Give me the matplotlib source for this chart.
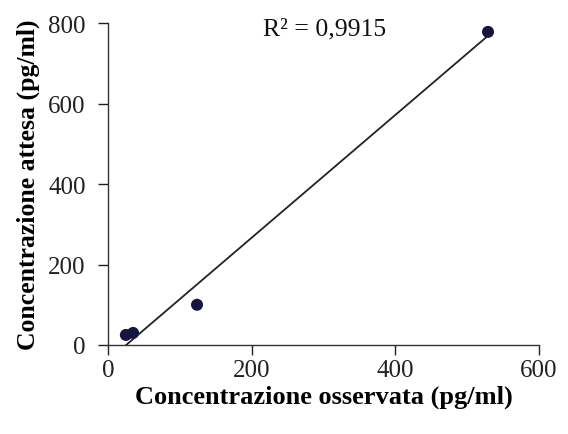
import matplotlib
matplotlib.use("Agg")
import matplotlib.pyplot as plt
import numpy as np

observed = [25, 35, 124, 529]
expected = [25, 30, 100, 778]
x_ticks = [0, 200, 400, 600]
y_ticks = [0, 200, 400, 600, 800]
r2_label = "R² = 0,9915"

plt.rcParams['font.family'] = ['Liberation Serif', 'DejaVu Serif']

fig = plt.figure(figsize=(5.68, 4.35), dpi=100)
ax = fig.add_axes([0.190, 0.2046, 0.759, 0.7402])

xo = np.array(observed, dtype=float)
ye = np.array(expected, dtype=float)
slope, intercept = np.polyfit(xo, ye, 1)
xl = np.array([xo.min(), xo.max()])
ax.plot(xl, slope * xl + intercept, color='#222222', lw=1.3, zorder=2)
ax.scatter(xo, ye, s=75, color='#15153f', zorder=3, edgecolors='none')

ax.set_xlim(0, 600)
ax.set_ylim(0, 800)
ax.set_xticks(x_ticks)
ax.set_yticks(y_ticks)
ax.tick_params(direction='out', length=7, width=1, labelsize=18, colors='#222222')
ax.tick_params(axis='y', pad=9)
ax.tick_params(axis='x', pad=3)
for s in ['top', 'right']:
    ax.spines[s].set_visible(False)
for s in ['left', 'bottom']:
    ax.spines[s].set_color('#333333')
    ax.spines[s].set_linewidth(1)

ax.set_xlabel("Concentrazione osservata (pg/ml)", fontsize=19, fontweight='bold', labelpad=3)
ax.set_ylabel("Concentrazione attesa (pg/ml)", fontsize=18.5, fontweight='bold', labelpad=6)
ax.text(301, 787, r2_label, fontsize=18.5, ha='center', va='center', color='#111111')

fig.savefig("out.png", dpi=100)
